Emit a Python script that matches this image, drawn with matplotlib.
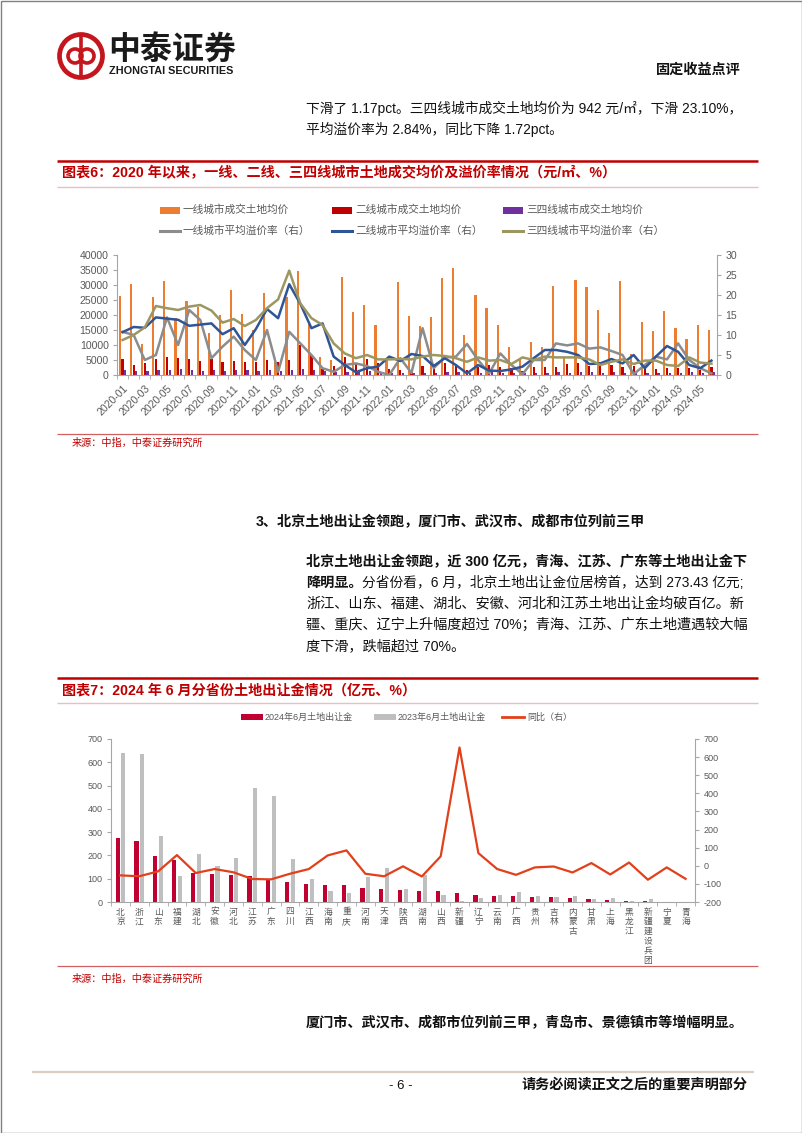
import numpy as np
import matplotlib
matplotlib.use('Agg')
import matplotlib.pyplot as plt
from matplotlib.patches import Rectangle, Circle
from matplotlib.lines import Line2D

plt.rcParams['font.family'] = ['Liberation Sans', 'Noto Sans CJK SC']
plt.rcParams['axes.unicode_minus'] = False

# ---------------- data: chart 1 ----------------
months = [f'{y}-{m:02d}' for y in range(2020, 2025) for m in range(1, 13)][:54]
tier1_price = [26500, 30500, 10300, 26000, 31500, 19000, 24700, 22800, 14000, 20000,
               28300, 20500, 15000, 27300, 4500, 26000, 34800, 17000, 5900, 5000,
               32800, 20900, 23500, 16700, 5000, 31000, 19700, 16300, 19400, 32400,
               35600, 13300, 26700, 22200, 16600, 9200, 5500, 11100, 9200, 29800,
               6000, 31700, 29400, 21700, 14100, 31300, 7000, 17600, 14700, 21400,
               15600, 12100, 16600, 15000]
tier2_price = [5500, 3500, 4000, 5500, 6100, 5700, 5500, 4700, 5200, 4200,
               4700, 4400, 4500, 5100, 4200, 5000, 10000, 6800, 2000, 3000,
               6000, 3900, 5200, 4000, 2000, 1800, 1000, 3000, 3500, 4100,
               3500, 1800, 2600, 3300, 2800, 2500, 1200, 2600, 2600, 2600,
               3800, 4000, 2900, 4200, 3200, 2600, 2900, 2900, 2000, 2200,
               2500, 2500, 1600, 2600]
tier34_price = [1800, 1500, 1300, 1600, 1700, 1900, 1600, 1500, 1700, 1500,
                1700, 1800, 1400, 1600, 1300, 1800, 1900, 1600, 1200, 900,
                1100, 1000, 1200, 900, 800, 700, 600, 700, 800, 900,
                1000, 700, 800, 900, 700, 800, 600, 700, 800, 900,
                800, 900, 1000, 800, 900, 800, 900, 700, 800, 700,
                800, 900, 700, 942]
tier1_prem = [10.8, 10.0, 3.75, 5.0, 14.4, 7.5, 16.25, 13.75, 4.2, 7.1,
              9.6, 6.25, 3.75, 11.25, 0.8, 10.8, 7.9, 5.0, 1.7, 0.8,
              2.5, 2.9, 2.25, 0.8, 0.0, 4.2, 0.5, 11.7, 1.7, 4.4,
              4.6, 7.75, 3.75, 0.4, 5.4, 2.5, 0.2, 3.75, 3.75, 7.9,
              7.4, 7.9, 6.6, 6.9, 6.0, 5.0, 0.2, 2.5, 4.6, 3.9,
              7.9, 3.75, 1.7, 0.4]
tier2_prem = [10.7, 12.0, 11.8, 14.4, 14.1, 13.8, 12.3, 12.6, 12.9, 10.2,
              11.7, 7.5, 11.5, 16.5, 14.2, 22.7, 17.8, 11.7, 12.9, 4.6,
              2.5, 0.7, 1.7, 2.1, 4.6, 3.5, 5.25, 4.75, 2.25, 4.2,
              2.5, 0.4, 2.5, 1.1, 1.0, 1.4, 2.1, 4.2, 6.25, 6.25,
              5.8, 5.0, 2.75, 2.9, 4.0, 2.9, 5.0, 1.7, 4.6, 7.25,
              5.8, 2.5, 1.7, 3.6]
tier34_prem = [8.75, 10.0, 11.9, 17.25, 16.7, 16.25, 17.1, 17.5, 16.1, 13.1,
               14.0, 12.25, 13.75, 16.7, 18.9, 26.1, 17.9, 14.2, 12.5, 7.9,
               5.4, 4.2, 5.0, 3.9, 3.9, 4.0, 3.9, 4.6, 5.0, 4.75,
               4.2, 3.3, 4.4, 3.6, 3.75, 2.75, 4.4, 3.75, 4.6, 4.4,
               4.4, 4.4, 3.9, 2.5, 3.3, 3.9, 2.75, 3.6, 3.6, 2.5,
               2.25, 4.4, 3.1, 2.84]
legend1_labels = ['一线城市成交土地均价', '二线城市成交土地均价', '三四线城市成交土地均价',
                  '一线城市平均溢价率（右）', '二线城市平均溢价率（右）', '三四线城市平均溢价率（右）']

# ---------------- data: chart 2 ----------------
provinces = ['北京', '浙江', '山东', '福建', '湖北', '安徽', '河北', '江苏', '广东', '四川',
             '江西', '海南', '重庆', '河南', '天津', '陕西', '湖南', '山西', '新疆', '辽宁',
             '云南', '广西', '贵州', '吉林', '内蒙古', '甘肃', '上海', '黑龙江', '新疆建设兵团',
             '宁夏', '青海']
land_2024 = [273.43, 262, 197, 180, 123, 121, 114, 113, 96, 87,
             79, 74, 73, 59, 57, 53, 49, 49, 39, 31,
             24, 24, 23, 20, 19, 13, 9, 4, 3, 1, 0.5]
land_2023 = [640, 637, 282, 113, 207, 155, 187, 489, 456, 185,
             99, 47, 40, 106, 145, 56, 118, 32, 5, 18,
             29, 44, 24, 20, 27, 11, 17, 3.4, 14, 1.1, 2]
yoy = [-53, -58, -31, 59, -40, -18, -36, -73, -75, -44,
       -18, 57, 85, -44, -58, -3, -59, 52, 653, 70,
       -18, -50, -9, -4, -37, 15, -48, 18, -77, -9, -72]
legend2_labels = ['2024年6月土地出让金', '2023年6月土地出让金', '同比（右）']

# ---------------- styles ----------------
C_OR, C_RD, C_PU = '#ED7D31', '#C00000', '#7030A0'
C_GRL, C_BLL, C_OLL = '#8C8C8C', '#2F5597', '#9C9661'
C2_RD, C2_GR, C2_LN = '#C00030', '#BFBFBF', '#E2401B'
AX_C, TXT_G = '#A6A6A6', '#595959'
RED_T = '#C00000'

W, H = 802, 1133
fig = plt.figure(figsize=(W / 100, H / 100), dpi=100)
bg = fig.add_axes([0, 0, 1, 1])
bg.set_xlim(0, W)
bg.set_ylim(H, 0)
bg.axis('off')


def ax_px(x0, y0, x1, y1):
    a = fig.add_axes([x0 / W, 1 - y1 / H, (x1 - x0) / W, (y1 - y0) / H])
    a.patch.set_visible(False)
    return a


def hline(y, x0, x1, color, lw):
    bg.add_line(Line2D([x0, x1], [y, y], color=color, lw=lw, solid_capstyle='butt'))


BODY = 10.2
TOP = 9.9
# page frame
bg.add_patch(Rectangle((0.5, 0.5), W - 1, H - 1, fill=False, ec='#808080', lw=1))

# ---------------- header ----------------
LOGO = '#C4161C'
bg.add_patch(Circle((81, 56), 21.5, fill=False, ec=LOGO, lw=3.4))
bg.add_patch(Circle((75, 56), 7, fill=False, ec=LOGO, lw=2.6))
bg.add_patch(Circle((87, 56), 7, fill=False, ec=LOGO, lw=2.6))
bg.add_line(Line2D([81, 81], [37, 75], color=LOGO, lw=2.6))
bg.text(108, 50, '中泰证券', fontsize=23, weight='bold', color='#1a1a1a', va='center', ha='left')
bg.text(109, 71, 'ZHONGTAI SECURITIES', fontsize=7.8, weight='bold', color='#1a1a1a', va='center', ha='left')
bg.text(741, 70, '固定收益点评', fontsize=BODY, weight='bold', color='#111111', va='center', ha='right')

bg.text(306, 108, '下滑了 1.17pct。三四线城市成交土地均价为 942 元/㎡，下滑 23.10%，', fontsize=TOP, va='center', color='#111111')
bg.text(306, 129, '平均溢价率为 2.84%，同比下降 1.72pct。', fontsize=TOP, va='center', color='#111111')

# ---------------- chart 1 title ----------------
hline(161, 57, 758, RED_T, 1.8)
bg.text(62, 173, '图表6：2020 年以来，一线、二线、三四线城市土地成交均价及溢价率情况（元/㎡、%）',
        fontsize=BODY, weight='bold', color=RED_T, va='center')
hline(187, 57, 758, '#E8C0C0', 1.0)

# legend chart 1 (manual)
col_x = [160, 332, 503]
bar_cols = [C_OR, C_RD, C_PU]
line_cols = [C_GRL, C_BLL, C_OLL]
for i in range(3):
    bg.add_patch(Rectangle((col_x[i], 206.5), 20, 7, color=bar_cols[i], lw=0))
    bg.text(col_x[i] + 23, 210, legend1_labels[i], fontsize=7.7, color=TXT_G, va='center')
    bg.add_line(Line2D([col_x[i], col_x[i] + 20], [231, 231], color=line_cols[i], lw=2.2))
    bg.text(col_x[i] + 23, 231, legend1_labels[i + 3], fontsize=7.7, color=TXT_G, va='center')

# ---------------- chart 1 ----------------
ax1 = ax_px(117, 255, 717, 375)
x1 = np.arange(len(months))
bw = 0.2
ax1.bar(x1 - 0.24, tier1_price, bw, color=C_OR, zorder=2)
ax1.bar(x1, tier2_price, bw, color=C_RD, zorder=2)
ax1.bar(x1 + 0.24, tier34_price, bw, color=C_PU, zorder=2)
ax1.set_xlim(-0.5, len(months) - 0.5)
ax1.set_ylim(0, 40000)
ax1.set_yticks(np.arange(0, 40001, 5000))
ax1.set_xticks(x1[::2])
ax1.set_xticklabels(months[::2], rotation=45, ha='right', va='top', rotation_mode='anchor',
                    fontsize=7.6, color=TXT_G)
ax1.set_xticks(np.arange(-0.5, len(months), 1), minor=True)
ax1.tick_params(axis='x', which='major', length=0, pad=6)
ax1.tick_params(axis='x', which='minor', length=3, color=AX_C)
ax1.tick_params(axis='y', length=3, color=AX_C, labelsize=7.6, labelcolor=TXT_G, pad=3)
for s in ['top', 'right']:
    ax1.spines[s].set_visible(False)
for s in ['left', 'bottom']:
    ax1.spines[s].set_color(AX_C)

ax1r = ax1.twinx()
ax1r.patch.set_visible(False)
ax1r.plot(x1, tier1_prem, color=C_GRL, lw=1.8, zorder=3)
ax1r.plot(x1, tier2_prem, color=C_BLL, lw=1.8, zorder=3)
ax1r.plot(x1, tier34_prem, color=C_OLL, lw=1.8, zorder=3)
ax1r.set_ylim(0, 30)
ax1r.set_yticks(np.arange(0, 31, 5))
ax1r.tick_params(axis='y', length=3, color=AX_C, labelsize=7.6, labelcolor=TXT_G, pad=3)
for s in ['top', 'left', 'bottom']:
    ax1r.spines[s].set_visible(False)
ax1r.spines['right'].set_color(AX_C)

hline(434, 57, 758, '#D06060', 0.9)
bg.text(72, 443, '来源：中指，中泰证券研究所', fontsize=7.3, color=RED_T, va='center')

# ---------------- section text ----------------
bg.text(256, 522, '3、北京土地出让金领跑，厦门市、武汉市、成都市位列前三甲', fontsize=BODY,
        weight='bold', color='#111111', va='center')
py = [562, 583, 604, 625, 646]
bg.text(306, py[0], '北京土地出让金领跑，近 300 亿元，青海、江苏、广东等土地出让金下', fontsize=BODY,
        weight='bold', color='#111111', va='center')
tb = bg.text(306, py[1], '降明显。', fontsize=BODY, weight='bold', color='#111111', va='center')
fig.canvas.draw()
x_after = tb.get_window_extent(fig.canvas.get_renderer()).x1
bg.text(x_after, py[1], '分省份看，6 月，北京土地出让金位居榜首，达到 273.43 亿元;', fontsize=9.9,
        color='#111111', va='center')
bg.text(306, py[2], '浙江、山东、福建、湖北、安徽、河北和江苏土地出让金均破百亿。新', fontsize=BODY,
        color='#111111', va='center')
bg.text(306, py[3], '疆、重庆、辽宁上升幅度超过 70%；青海、江苏、广东土地遭遇较大幅', fontsize=BODY,
        color='#111111', va='center')
bg.text(306, py[4], '度下滑，跌幅超过 70%。', fontsize=BODY, color='#111111', va='center')

# ---------------- chart 2 title ----------------
hline(678, 57, 758, RED_T, 1.8)
bg.text(62, 690, '图表7：2024 年 6 月分省份土地出让金情况（亿元、%）', fontsize=BODY,
        weight='bold', color=RED_T, va='center')
hline(703, 57, 758, '#E8C0C0', 1.0)

# legend chart 2
bg.add_patch(Rectangle((241, 714), 22, 6, color=C2_RD, lw=0))
bg.text(265, 717, legend2_labels[0], fontsize=6.5, color=TXT_G, va='center')
bg.add_patch(Rectangle((374, 714), 22, 6, color=C2_GR, lw=0))
bg.text(398, 717, legend2_labels[1], fontsize=6.5, color=TXT_G, va='center')
bg.add_line(Line2D([502, 524], [717, 717], color=C2_LN, lw=2))
bg.text(527, 717, legend2_labels[2], fontsize=6.5, color=TXT_G, va='center')

# ---------------- chart 2 ----------------
ax2 = ax_px(111, 739, 695, 902)
x2 = np.arange(len(provinces))
ax2.bar(x2 - 0.15, land_2024, 0.22, color=C2_RD, zorder=2)
ax2.bar(x2 + 0.15, land_2023, 0.22, color=C2_GR, zorder=2)
ax2.set_xlim(-0.5, len(provinces) - 0.5)
ax2.set_ylim(0, 700)
ax2.set_yticks(np.arange(0, 701, 100))
ax2.set_xticks(x2)
ax2.set_xticklabels(['\n'.join(p) for p in provinces], fontsize=6.3, color=TXT_G,
                    va='top', linespacing=1.1)
ax2.set_xticks(np.arange(-0.5, len(provinces), 1), minor=True)
ax2.tick_params(axis='x', which='major', length=0, pad=4)
ax2.tick_params(axis='x', which='minor', length=3, color=AX_C)
ax2.tick_params(axis='y', length=3, color=AX_C, labelsize=6.5, labelcolor=TXT_G, pad=3)
for s in ['top', 'right']:
    ax2.spines[s].set_visible(False)
for s in ['left', 'bottom']:
    ax2.spines[s].set_color(AX_C)

ax2r = ax2.twinx()
ax2r.patch.set_visible(False)
ax2r.plot(x2, yoy, color=C2_LN, lw=1.6, zorder=3)
ax2r.set_ylim(-200, 700)
ax2r.set_yticks(np.arange(-200, 701, 100))
ax2r.tick_params(axis='y', length=3, color=AX_C, labelsize=6.5, labelcolor=TXT_G, pad=3)
for s in ['top', 'left', 'bottom']:
    ax2r.spines[s].set_visible(False)
ax2r.spines['right'].set_color(AX_C)

hline(966, 57, 758, '#D06060', 0.9)
bg.text(72, 979, '来源：中指，中泰证券研究所', fontsize=7.3, color=RED_T, va='center')

bg.text(306, 1023, '厦门市、武汉市、成都市位列前三甲，青岛市、景德镇市等增幅明显。', fontsize=BODY,
        weight='bold', color='#111111', va='center')

# ---------------- footer ----------------
hline(1072, 32, 754, '#D9CFC2', 1.6)
bg.text(401, 1086, '- 6 -', fontsize=9.5, color='#111111', va='center', ha='center')
bg.text(747, 1086, '请务必阅读正文之后的重要声明部分', fontsize=BODY, weight='bold',
        color='#111111', va='center', ha='right')

fig.savefig('out.png', dpi=100)
